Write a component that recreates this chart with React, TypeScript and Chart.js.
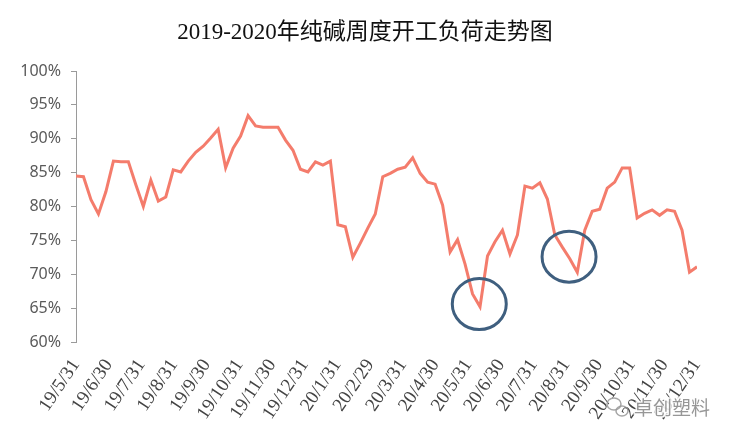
import React, { useEffect, useRef } from "react";
import { Chart, registerables } from "chart.js";

Chart.register(...registerables);

const TITLE = "2019-2020年纯碱周度开工负荷走势图";
const WATERMARK = "卓创塑料";

const monthLabels = [
  "19/5/31", "19/6/30", "19/7/31", "19/8/31", "19/9/30", "19/10/31", "19/11/30",
  "19/12/31", "20/1/31", "20/2/29", "20/3/31", "20/4/30", "20/5/31", "20/6/30",
  "20/7/31", "20/8/31", "20/9/30", "20/10/31", "20/11/30", "20/12/31",
];

// weekly operating load (%), 2019-05-31 .. 2020-12-31
const loadValues = [
  84.5, 84.4, 81.0, 78.9, 82.2, 86.7, 86.6, 86.6, 83.2, 80.0,
  83.9, 80.8, 81.4, 85.4, 85.1, 86.7, 88.0, 88.9, 90.1, 91.4,
  85.7, 88.6, 90.4, 93.4, 91.9, 91.7, 91.7, 91.7, 89.8, 88.3,
  85.5, 85.1, 86.6, 86.1, 86.7, 77.3, 77.0, 72.5, 74.6, 76.8,
  78.9, 84.4, 84.9, 85.5, 85.8, 87.2, 84.9, 83.6, 83.3, 80.2,
  73.3, 75.1, 71.5, 67.1, 65.2, 72.7, 74.8, 76.5, 73.0, 75.8,
  83.0, 82.7, 83.5, 81.1, 75.8, 74.0, 72.3, 70.3, 76.5, 79.3,
  79.6, 82.7, 83.6, 85.7, 85.7, 78.3, 79.0, 79.5, 78.7, 79.5,
  79.3, 76.5, 70.3, 71.1,
];

// highlighted lows: [week index, load %]
const circleMarks = [
  [53.9, 65.6],
  [65.9, 72.6],
];

const yTicks = [60, 65, 70, 75, 80, 85, 90, 95, 100];

export default function App() {
  const ref = useRef<HTMLCanvasElement | null>(null);

  useEffect(() => {
    if (!ref.current) return;
    const n = loadValues.length;
    const span = monthLabels.length - 1;
    const pts = loadValues.map((v, i) => ({ x: (i * span) / (n - 1), y: v }));

    const overlay = {
      id: "overlay",
      afterDatasetsDraw(chart: any) {
        const { ctx, scales } = chart;
        ctx.save();
        ctx.strokeStyle = "#3f5f7f";
        ctx.lineWidth = 3;
        circleMarks.forEach(([wi, v]) => {
          const cx = scales.x.getPixelForValue((wi * span) / (n - 1));
          const cy = scales.y.getPixelForValue(v);
          ctx.beginPath();
          ctx.ellipse(cx, cy, 27, 25.5, 0, 0, Math.PI * 2);
          ctx.stroke();
        });
        ctx.restore();
      },
      afterDraw(chart: any) {
        const { ctx } = chart;
        ctx.save();
        ctx.fillStyle = "#111";
        ctx.font = '23px "Liberation Serif", "Noto Sans CJK SC", serif';
        ctx.textAlign = "center";
        ctx.textBaseline = "middle";
        ctx.fillText(TITLE, 365, 33);

        // watermark
        ctx.font = '19px "Noto Sans CJK SC", sans-serif';
        ctx.textAlign = "left";
        ctx.lineWidth = 3;
        ctx.strokeStyle = "rgba(255,255,255,0.9)";
        ctx.strokeText(WATERMARK, 634, 408);
        ctx.fillStyle = "rgba(125,125,125,0.8)";
        ctx.fillText(WATERMARK, 634, 408);
        ctx.strokeStyle = "rgba(150,150,150,0.85)";
        ctx.lineWidth = 1.5;
        ctx.beginPath();
        ctx.ellipse(614, 404, 7, 6, 0, 0, Math.PI * 2);
        ctx.stroke();
        ctx.beginPath();
        ctx.ellipse(622, 411, 6, 5, 0, 0, Math.PI * 2);
        ctx.stroke();
        ctx.restore();
      },
    };

    const chart = new Chart(ref.current, {
      type: "line",
      data: {
        datasets: [
          {
            data: pts,
            borderColor: "#f47c6c",
            borderWidth: 3,
            pointRadius: 0,
            tension: 0,
            fill: false,
          },
        ],
      },
      options: {
        animation: false,
        responsive: false,
        maintainAspectRatio: false,
        layout: { padding: { top: 71, right: 32, left: 0, bottom: 0 } },
        plugins: {
          legend: { display: false },
          title: { display: false },
          tooltip: { enabled: false },
        },
        scales: {
          x: {
            type: "linear",
            min: 0,
            max: span,
            grid: { display: false, drawTicks: false },
            border: { display: false },
            afterBuildTicks(scale: any) {
              scale.ticks = monthLabels.map((_, i) => ({ value: i }));
            },
            afterFit(scale: any) {
              scale.height = 96;
            },
            ticks: {
              autoSkip: false,
              maxRotation: 56,
              minRotation: 56,
              padding: 13,
              color: "#444",
              font: { family: '"Liberation Serif", serif', size: 19 },
              callback: (v: any) => monthLabels[Math.round(Number(v))] ?? "",
            },
          },
          y: {
            min: 60,
            max: 100,
            afterBuildTicks(scale: any) {
              scale.ticks = yTicks.map((v) => ({ value: v }));
            },
            afterFit(scale: any) {
              scale.width = 76;
            },
            grid: {
              drawOnChartArea: false,
              drawTicks: true,
              tickLength: 5,
              color: "#9a9a9a",
            },
            border: { display: true, color: "#9a9a9a", width: 1 },
            ticks: {
              padding: 10,
              color: "#5a5a5a",
              font: { family: '"Noto Sans", sans-serif', size: 16 },
              callback: (v: any) => `${v}%`,
            },
          },
        },
      },
      plugins: [overlay],
    });
    return () => chart.destroy();
  }, []);

  return (
    <div style={{ position: "fixed", left: 0, top: 0, width: 729, height: 438, background: "#fff" }}>
      <canvas ref={ref} width={729} height={438} style={{ width: 729, height: 438 }} />
    </div>
  );
}
